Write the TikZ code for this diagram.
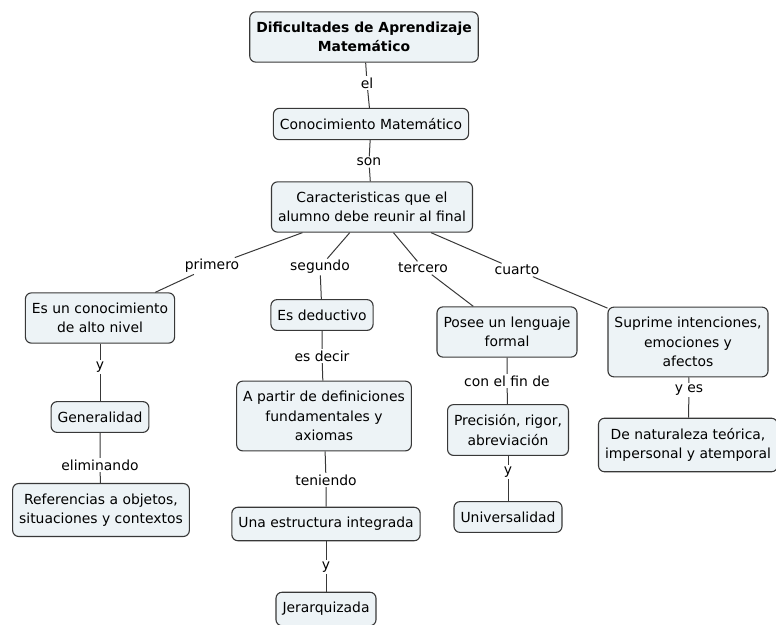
\documentclass[tikz,border=0pt]{standalone}
\usepackage{fontspec}
\setmainfont{DejaVu Sans}
\usetikzlibrary{positioning}
\definecolor{conceptfill}{HTML}{EDF3F6}
\definecolor{conceptline}{HTML}{383838}
\tikzset{
concept/.style={draw=conceptline, fill=conceptfill, rounded corners=6pt, line width=1.1pt,
  align=center, inner xsep=6.5pt, inner ysep=10pt, font=\fontsize{13.9}{19.5}\selectfont}, % the boxes
topic/.style={concept, font=\fontsize{13.9}{19.5}\selectfont\bfseries}, % the top box
linkword/.style={inner sep=1.5pt, font=\fontsize{13.9}{19.5}\selectfont}, % words on the links
link/.style={draw=conceptline, line width=1pt}, % plain connecting lines
}

\begin{document}
\begin{tikzpicture}[x=1pt, y=-1pt]
    \useasboundingbox (0,0) rectangle (776,624);
    % concepts
    \node[topic] (dam) at (364,37) {Dificultades de Aprendizaje\\Matemático};
    \node[concept] (cm) at (371,124) {Conocimiento Matemático};
    \node[concept] (carac) at (372,207) {Caracteristicas que el\\alumno debe reunir al final};
    \node[concept] (altonivel) at (100,318) {Es un conocimiento\\de alto nivel};
    \node[concept] (deductivo) at (322,315) {Es deductivo};
    \node[concept] (lenguaje) at (507,332) {Posee un lenguaje\\formal};
    \node[concept] (suprime) at (688,342) {Suprime intenciones,\\emociones y\\afectos};
    \node[concept] (general) at (100,417) {Generalidad};
    \node[concept] (apartir) at (324,416) {A partir de definiciones\\fundamentales y\\axiomas};
    \node[concept] (precision) at (508,430) {Precisión, rigor,\\abreviación};
    \node[concept] (naturaleza) at (688,445) {De naturaleza teórica,\\impersonal y atemporal};
    \node[concept] (referencias) at (101,510) {Referencias a objetos,\\situaciones y contextos};
    \node[concept] (estructura) at (326,524) {Una estructura integrada};
    \node[concept] (universal) at (508,517) {Universalidad};
    \node[concept] (jerarq) at (326,609) {Jerarquizada};
    % linking words
    \node[linkword] (el) at (367,83) {el};
    \node[linkword] (son) at (369,162) {son};
    \node[linkword] (primero) at (212,266) {primero};
    \node[linkword] (segundo) at (320,267) {segundo};
    \node[linkword] (tercero) at (423,268) {tercero};
    \node[linkword] (cuarto) at (517,270) {cuarto};
    \node[linkword] (y1) at (100,367) {y};
    \node[linkword] (esdecir) at (322,356) {es decir};
    \node[linkword] (confin) at (507,381) {con el fin de};
    \node[linkword] (yes) at (689,390) {y es};
    \node[linkword] (elim) at (100,465) {eliminando};
    \node[linkword] (teniendo) at (326,480) {teniendo};
    \node[linkword] (y2) at (508,472) {y};
    \node[linkword] (y3) at (326,567) {y};
    % links
    \draw[link] (dam) -- (el) -- (cm);
    \draw[link] (cm) -- (son) -- (carac);
    \draw[link] (carac) -- (primero) -- (altonivel);
    \draw[link] (carac) -- (segundo) -- (deductivo);
    \draw[link] (carac) -- (tercero) -- (lenguaje);
    \draw[link] (carac) -- (cuarto) -- (suprime);
    \draw[link] (altonivel) -- (y1) -- (general);
    \draw[link] (general) -- (elim) -- (referencias);
    \draw[link] (deductivo) -- (esdecir) -- (apartir);
    \draw[link] (apartir) -- (teniendo) -- (estructura);
    \draw[link] (estructura) -- (y3) -- (jerarq);
    \draw[link] (lenguaje) -- (confin) -- (precision);
    \draw[link] (precision) -- (y2) -- (universal);
    \draw[link] (suprime) -- (yes) -- (naturaleza);
\end{tikzpicture}
\end{document}
